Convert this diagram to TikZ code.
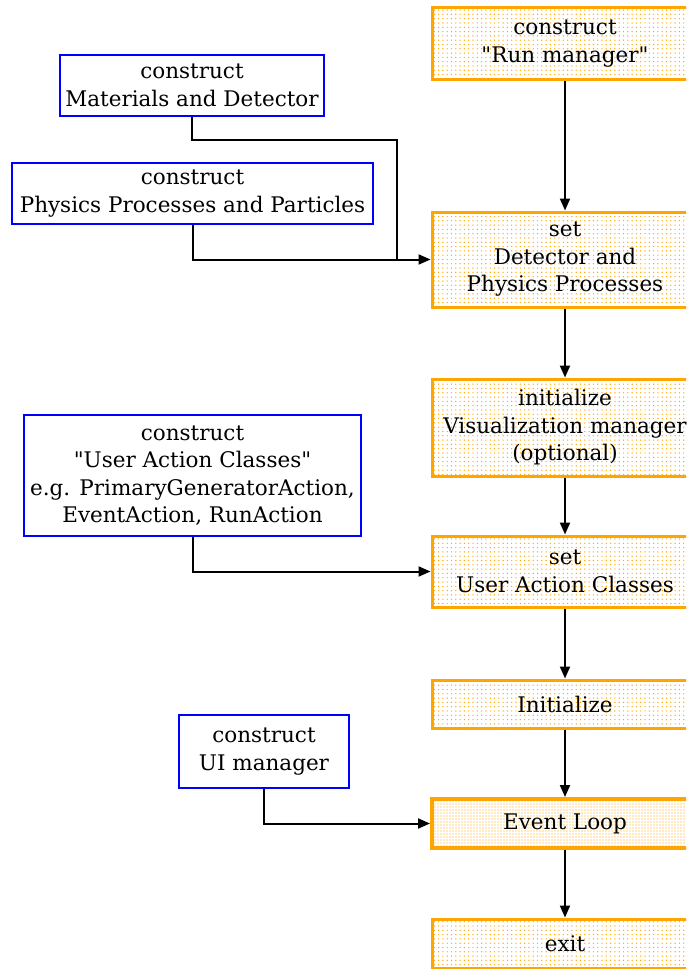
\documentclass[tikz,border=0pt]{standalone}
\usepackage{fontspec}
\setmainfont{DejaVu Serif}[Ligatures=TeXOff]
\usepackage{xcolor}
\usepackage{tikz}
\usetikzlibrary{arrows.meta, patterns.meta}
\definecolor{boxorange}{HTML}{FFA500}
\definecolor{boxblue}{HTML}{0000FF}

\begin{document}
\begin{tikzpicture}[x=1pt, y=-1pt, >={Triangle[length=12pt,width=10pt]},
  every node/.style={font=\fontsize{21.5}{27.5}\selectfont, align=center, inner sep=0pt},
  runbox/.style={draw=boxorange, line width=3pt, pattern={Dots[distance=4.3pt, radius=0.7pt]},
    pattern color=boxorange, minimum width=266pt},
  userbox/.style={draw=boxblue, line width=2pt, fill=white},
  link/.style={line width=2pt, black}]

\useasboundingbox (0,0) rectangle (686,969);
\clip (0,0) rectangle (686,969);

% main sequence (right column)
\node[runbox, minimum height=72pt] (run) at (565,43.5) {construct\\"Run manager"};
\node[runbox, minimum height=95pt] (detphys) at (565,259.5) {set\\Detector and\\Physics Processes};
\node[runbox, minimum height=97pt] (vis) at (565,427.5) {initialize\\Visualization manager\\(optional)};
\node[runbox, minimum height=71pt] (useract) at (565,571.5) {set\\User Action Classes};
\node[runbox, minimum height=48pt] (init) at (565,704) {Initialize};
\node[runbox, minimum height=49pt, line width=4pt, pattern={Dots[distance=3pt, radius=0.7pt]}] (loop) at (565,823.5) {Event Loop};
\node[runbox, minimum height=49pt] (exit) at (565,943.5) {exit};

% user side (left column)
\node[userbox, minimum width=264pt, minimum height=61pt] (matdet) at (192,85.5) {construct\\Materials and Detector};
\node[userbox, minimum width=361pt, minimum height=61pt] (physpart) at (192.5,193.5) {construct\\Physics Processes and Particles};
\node[userbox, minimum width=337pt, minimum height=121pt] (actions) at (192.5,475.5) {construct\\"User Action Classes"\\e.g. PrimaryGeneratorAction,\\EventAction, RunAction};
\node[userbox, minimum width=170pt, minimum height=73pt] (uiman) at (264,751.5) {construct\\UI manager};

\coordinate (joint) at (397,259.5);

\foreach \a/\b in {run/detphys, detphys/vis, vis/useract, useract/init, init/loop, loop/exit}
  \draw[link, ->] (\a.south) -- (\b.north);

\draw[link] (matdet.south) -- ++(0,23) -| (joint);
\draw[link, ->] (physpart.south) |- (detphys.west);
\draw[link, ->] (actions.south) |- (useract.west);
\draw[link, ->] (uiman.south) |- (loop.west);

\end{tikzpicture}
\end{document}
